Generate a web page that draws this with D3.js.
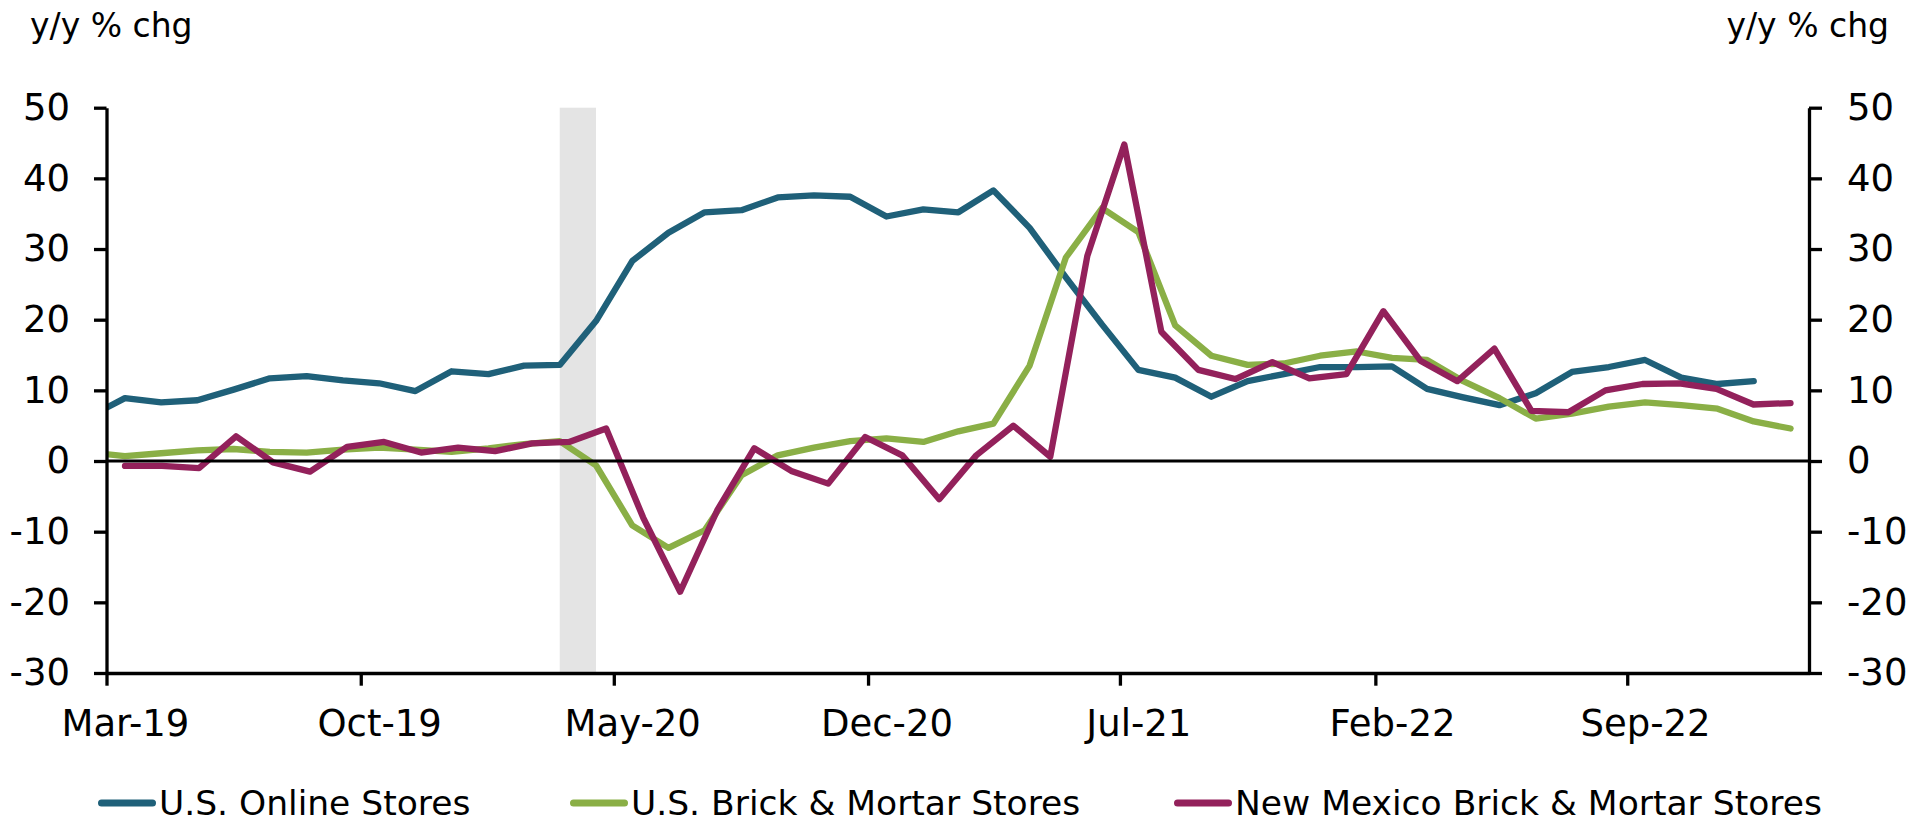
<!DOCTYPE html>
<html>
<head>
<meta charset="utf-8">
<script src="https://cdn.jsdelivr.net/npm/d3@7"></script>
<style>
body { margin: 0; background: #fff; }
svg text { font-family: "DejaVu Sans", sans-serif; fill: #000; }
</style>
</head>
<body>
<svg id="chart" width="1923" height="824"></svg>
<script>
// monthly y/y % change, U.S. series (Feb-19 .. Jan-23)
var usMonths = ["Feb-19", "Mar-19", "Apr-19", "May-19", "Jun-19", "Jul-19", "Aug-19", "Sep-19", "Oct-19", "Nov-19", "Dec-19",
    "Jan-20", "Feb-20", "Mar-20", "Apr-20", "May-20", "Jun-20", "Jul-20", "Aug-20", "Sep-20", "Oct-20", "Nov-20", "Dec-20",
    "Jan-21", "Feb-21", "Mar-21", "Apr-21", "May-21", "Jun-21", "Jul-21", "Aug-21", "Sep-21", "Oct-21", "Nov-21", "Dec-21",
    "Jan-22", "Feb-22", "Mar-22", "Apr-22", "May-22", "Jun-22", "Jul-22", "Aug-22", "Sep-22", "Oct-22", "Nov-22", "Dec-22",
    "Jan-23"];
var usOnline = [6.3, 8.9, 8.3, 8.6, 10.1, 11.7, 12.0, 11.4, 11.0, 9.9, 12.7, 12.3,
    13.5, 13.6, 19.8, 28.3, 32.3, 35.2, 35.5, 37.3, 37.6, 37.4, 34.6, 35.6,
    35.2, 38.3, 33.0, 26.0, 19.3, 12.9, 11.8, 9.1, 11.3, 12.3, 13.3, 13.3,
    13.4, 10.2, 9.0, 7.9, 9.6, 12.6, 13.3, 14.3, 11.8, 10.9, 11.3];
var usBrickMortar = [1.2, 0.7, 1.1, 1.5, 1.7, 1.3, 1.2, 1.6, 1.9, 1.6, 1.3, 1.8,
    2.4, 2.8, -0.6, -9.1, -12.3, -9.8, -2.0, 0.8, 1.9, 2.8, 3.2, 2.7,
    4.2, 5.3, 13.5, 28.8, 35.8, 32.4, 19.2, 14.9, 13.6, 13.8, 14.9, 15.5,
    14.6, 14.3, 11.3, 8.9, 6.0, 6.7, 7.7, 8.3, 7.9, 7.4, 5.6, 4.6];

// New Mexico series (plotted on its own category axis)
var nmMonths = ["Mar-19", "Apr-19", "May-19", "Jun-19", "Jul-19", "Aug-19", "Sep-19", "Oct-19", "Nov-19", "Dec-19",
    "Jan-20", "Feb-20", "Mar-20", "Apr-20", "May-20", "Jun-20", "Jul-20", "Aug-20", "Sep-20", "Oct-20", "Nov-20", "Dec-20",
    "Jan-21", "Feb-21", "Mar-21", "Apr-21", "May-21", "Jun-21", "Jul-21", "Aug-21", "Sep-21", "Oct-21", "Nov-21", "Dec-21",
    "Jan-22", "Feb-22", "Mar-22", "Apr-22", "May-22", "Jun-22", "Jul-22", "Aug-22", "Sep-22", "Oct-22", "Nov-22", "Dec-22"];
var nmBrickMortar = [-0.7, -0.7, -1.0, 3.5, -0.2, -1.5, 2.0, 2.7, 1.2, 1.9, 1.4, 2.5,
    2.7, 4.6, -8.0, -18.5, -7.0, 1.8, -1.4, -3.2, 3.4, 0.8, -5.4, 0.8,
    5.0, 0.6, 29.0, 44.8, 18.3, 12.9, 11.6, 14.0, 11.7, 12.3, 21.2, 14.2,
    11.3, 15.9, 7.1, 6.9, 10.0, 10.9, 11.0, 10.2, 8.0, 8.2];

var xTickLabels = ["Mar-19", "Oct-19", "May-20", "Dec-20", "Jul-21", "Feb-22", "Sep-22"];
var xDomain = ["Mar-19", "Feb-23"];
var yTicks = [-30, -20, -10, 0, 10, 20, 30, 40, 50];
var recession = ["Mar-20", "Apr-20"];
var seriesNames = ["U.S. Online Stores", "U.S. Brick & Mortar Stores", "New Mexico Brick & Mortar Stores"];
var seriesColors = ["#1f6079", "#8aaf46", "#93215b"];
var axisTitle = "y/y % chg";

var plotLeft = 106.5, plotRight = 1809, plotTop = 107.7, plotBottom = 673;
var parse = d3.utcParse("%b-%y");
var fmt = d3.utcFormat("%b-%y");

var svg = d3.select("#chart");

var x = d3.scaleUtc().domain(xDomain.map(parse)).range([plotLeft, plotRight]);
var xNm = d3.scalePoint().domain(nmMonths).range([plotLeft, plotRight]).padding(0.5);
var y = d3.scaleLinear().domain([yTicks[0], yTicks[yTicks.length - 1]]).range([plotBottom, plotTop]);

// centre of a month slot on the date axis
function mid(d) {
    return (x(d) + x(d3.utcMonth.offset(d, 1))) / 2;
}

svg.append("defs").append("clipPath").attr("id", "plot")
    .append("rect").attr("x", plotLeft).attr("y", plotTop).attr("width", plotRight - plotLeft).attr("height", plotBottom - plotTop);

// recession shading
svg.append("rect")
    .attr("x", mid(parse(recession[0])))
    .attr("width", mid(parse(recession[1])) - mid(parse(recession[0])))
    .attr("y", plotTop).attr("height", plotBottom - plotTop)
    .style("fill", "#e4e4e4");

var usLine = d3.line().x(function(d) { return mid(parse(d.m)); }).y(function(d) { return y(d.v); });
var nmLine = d3.line().x(function(d) { return xNm(d.m); }).y(function(d) { return y(d.v); });

var series = [
    { pts: usOnline.map(function(v, i) { return { m: usMonths[i], v: v }; }), line: usLine },
    { pts: usBrickMortar.map(function(v, i) { return { m: usMonths[i], v: v }; }), line: usLine },
    { pts: nmBrickMortar.map(function(v, i) { return { m: nmMonths[i], v: v }; }), line: nmLine }
];

svg.append("g").attr("clip-path", "url(#plot)").selectAll("path").data(series).enter().append("path")
    .attr("d", function(d) { return d.line(d.pts); })
    .style("fill", "none")
    .style("stroke", function(d, i) { return seriesColors[i]; })
    .style("stroke-width", 6.3)
    .style("stroke-linejoin", "round")
    .style("stroke-linecap", "round");

// zero line
svg.append("line").attr("x1", plotLeft).attr("x2", plotRight).attr("y1", y(0)).attr("y2", y(0))
    .style("stroke", "#000").style("stroke-width", 3.2);

function styleAxis(g) {
    g.selectAll("path, line").style("stroke", "#000").style("stroke-width", 3.3);
    g.selectAll("text").attr("font-size", 37).attr("font-family", "DejaVu Sans, sans-serif");
}

// plain hyphen for negatives, as in the original
var yFormat = function(d) { return String(d); };

svg.append("g").attr("transform", "translate(" + plotLeft + ",0)")
    .call(d3.axisLeft(y).tickValues(yTicks).tickFormat(yFormat).tickSize(12.5).tickSizeOuter(0).tickPadding(24))
    .call(styleAxis);

svg.append("g").attr("transform", "translate(" + plotRight + ",0)")
    .call(d3.axisRight(y).tickValues(yTicks).tickFormat(yFormat).tickSize(13).tickSizeOuter(0).tickPadding(25))
    .call(styleAxis);

var xAxis = svg.append("g").attr("transform", "translate(0," + plotBottom + ")")
    .call(d3.axisBottom(x).tickValues(xTickLabels.map(parse)).tickSize(12.7).tickSizeOuter(0).tickPadding(24.3).tickFormat(fmt))
    .call(styleAxis);
xAxis.select(".domain").style("stroke-width", 3.6);
xAxis.selectAll("text").attr("x", function(d) { return mid(d) - x(d); });

// axis titles
svg.append("text").attr("x", 30).attr("y", 36.5).attr("font-size", 33).text(axisTitle);
svg.append("text").attr("x", 1889).attr("y", 36.5).attr("font-size", 33).attr("text-anchor", "end").text(axisTitle);

// legend
var legendX = [98, 570, 1174];
var legend = svg.selectAll(".legend").data(seriesNames).enter().append("g").attr("class", "legend")
    .attr("transform", function(d, i) { return "translate(" + legendX[i] + ",803)"; });
legend.append("line").attr("x1", 3.5).attr("x2", 54.5).attr("y1", 0).attr("y2", 0)
    .style("stroke", function(d, i) { return seriesColors[i]; })
    .style("stroke-width", 7).style("stroke-linecap", "round");
legend.append("text").attr("x", 61).attr("y", 12).attr("font-size", 34.5).text(function(d) { return d; });
</script>
</body>
</html>
